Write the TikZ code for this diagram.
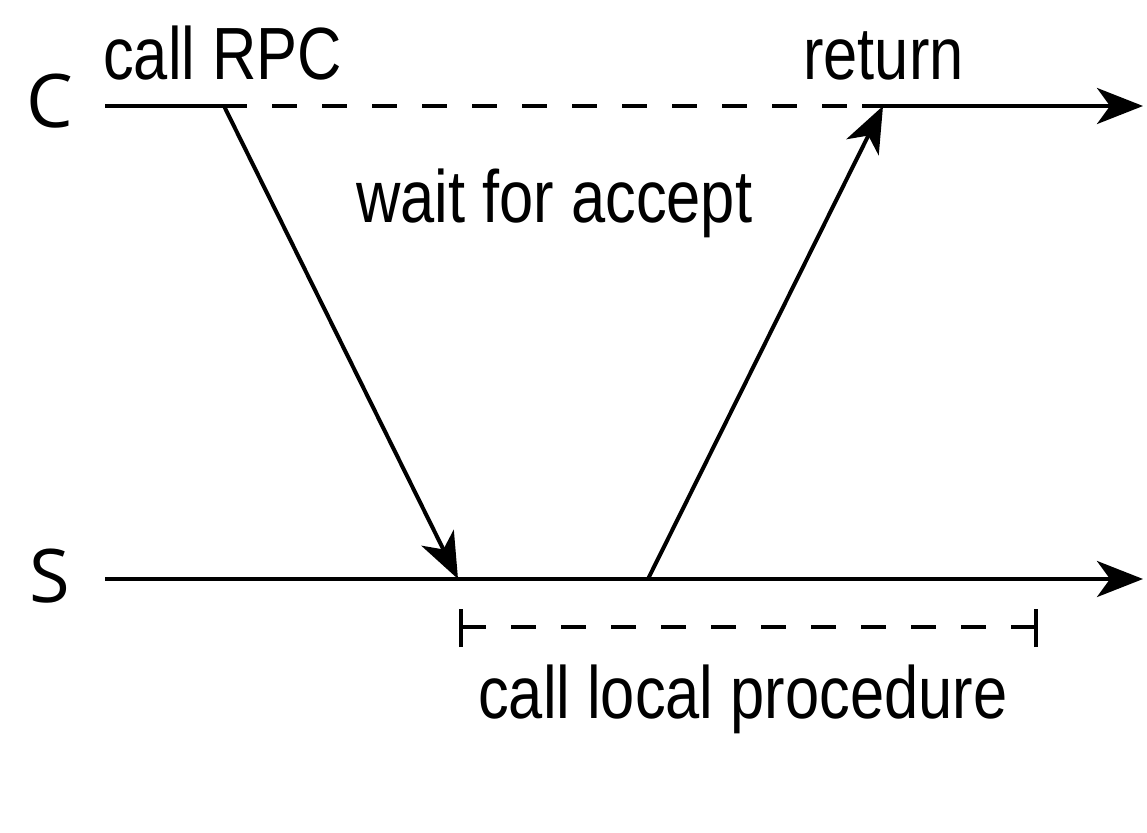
\documentclass[tikz,border=0pt]{standalone}
\usepackage{fontspec}
\setmainfont{Liberation Sans}[FakeStretch=0.83]
\newfontfamily\axisfont{Open Sans}
\usetikzlibrary{arrows.meta}
\begin{document}
\begin{tikzpicture}[x=1pt,y=-1pt,
  ln/.style={line width=4pt},
  arr/.style={ln,-{Stealth[length=46pt,width=36pt,inset=13pt]}},
  dsh/.style={ln,dash pattern=on 25pt off 25pt},
  lbl/.style={inner sep=0pt,anchor=base west,font=\fontsize{74}{80}\selectfont},
  ax/.style={inner sep=0pt,anchor=base west,font=\axisfont\fontsize{74}{80}\selectfont}]
\useasboundingbox (0,0) rectangle (1147,832);
% coordinates
\coordinate (c0) at (105,106);
\coordinate (c1) at (224,106);
\coordinate (c2) at (247,106);
\coordinate (c3) at (862,106);
\coordinate (c4) at (883,106);
\coordinate (cend) at (1143,106);
\coordinate (s0) at (105,579);
\coordinate (s1) at (458,579);
\coordinate (s2) at (648,579);
\coordinate (send) at (1143,579);
\coordinate (bl) at (461,627);
\coordinate (br) at (1036,627);
% axis labels
\node[ax] (C) at (26,128) {C};
\node[ax] (S) at (29,602) {S};
% client line
\draw[ln] (c0) -- (c2);
\draw[dsh,dash phase=25pt] (c2) -- (c3);
\draw[arr] (c3) -- (cend);
% server line
\draw[arr] (s0) -- (send);
% messages
\draw[arr] (c1) -- (s1);
\draw[arr] (s2) -- (c4);
% bracket
\draw[dsh] (bl) -- (br);
\draw[ln] ([yshift=-20pt]bl) -- ([yshift=18pt]bl);
\draw[ln] ([yshift=-20pt]br) -- ([yshift=18pt]br);
% texts
\node[lbl] (callrpc) at (103,80) {call RPC};
\node[lbl] (ret) at (803,80) {return};
\node[lbl] (wait) at (356,222) {wait for accept};
\node[lbl] (local) at (478,718) {call local procedure};
\end{tikzpicture}
\end{document}
